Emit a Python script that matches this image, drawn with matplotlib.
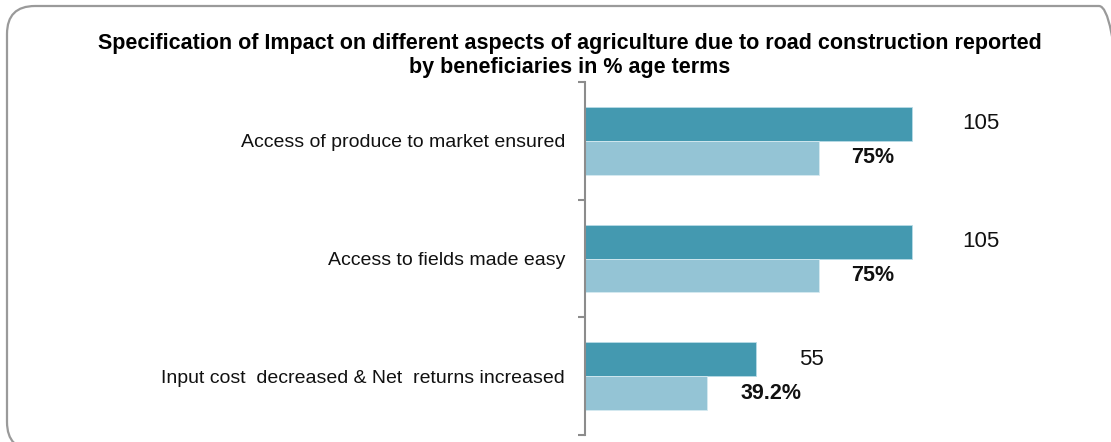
import matplotlib
matplotlib.use('Agg')
import matplotlib.pyplot as plt
from matplotlib.patches import FancyBboxPatch
from matplotlib.transforms import IdentityTransform
import numpy as np

# data
categories = ['Access of produce to market ensured',
              'Access to fields made easy',
              'Input cost  decreased & Net  returns increased']
dark_vals = [105, 105, 55]
light_vals = [75, 75, 39.2]
light_labels = ['75%', '75%', '39.2%']

dark_color = '#4499B0'
light_color = '#94C4D5'
sans = ['Liberation Sans', 'DejaVu Sans']

fig = plt.figure(figsize=(11.11, 4.42), dpi=100)

# rounded frame round the whole chart
frame = FancyBboxPatch((7, -8), 1120, 444, boxstyle='round,pad=0,rounding_size=28',
                       transform=IdentityTransform(), fill=False,
                       edgecolor='#9a9a9a', linewidth=1.6, clip_on=False)
fig.patches.append(frame)

ax = fig.add_axes([585 / 1111, 7 / 442, 500 / 1111, 353 / 442])
y = np.arange(len(categories))
h = 0.288
ax.barh(y - h / 2, dark_vals, height=h, color=dark_color, edgecolor='#b8dbe6', linewidth=0.6)
ax.barh(y + h / 2, light_vals, height=h, color=light_color, edgecolor='#d5eaf1', linewidth=0.6)

ax.set_xlim(0, 105 * 500 / 327)
ax.set_ylim(2.5, -0.5)

for i in range(len(categories)):
    off = 50 if dark_vals[i] > 60 else 43
    ax.annotate(str(dark_vals[i]), (dark_vals[i], y[i] - h / 2), xytext=(off, 0),
                textcoords='offset pixels', va='center', ha='left',
                fontsize=16, family=sans, color='#111111')
    ax.annotate(light_labels[i], (light_vals[i], y[i] + h / 2), xytext=(33, 0),
                textcoords='offset pixels', va='center', ha='left',
                fontsize=15.5, fontweight='bold', family=sans, color='#111111')

for s in ['top', 'right', 'bottom']:
    ax.spines[s].set_visible(False)
ax.spines['left'].set_color('#8c8c8c')
ax.spines['left'].set_linewidth(1.5)
ax.set_xticks([])
ax.set_yticks([-0.5, 0.5, 1.5, 2.5])
ax.set_yticklabels([])
ax.tick_params(axis='y', which='major', length=5, width=1.5, color='#8c8c8c', direction='out')
ax.set_yticks(y, minor=True)
ax.set_yticklabels(categories, minor=True, fontsize=14, family=sans, color='#111111')
ax.tick_params(axis='y', which='minor', length=0, pad=14.4)

fig.text(570 / 1111, 1 - 44 / 442,
         'Specification of Impact on different aspects of agriculture due to road construction reported',
         ha='center', va='center', fontsize=15.5, fontweight='bold', family=sans)
fig.text(570 / 1111, 1 - 67 / 442, 'by beneficiaries in % age terms',
         ha='center', va='center', fontsize=15.5, fontweight='bold', family=sans)

fig.savefig('out.png', dpi=100)
